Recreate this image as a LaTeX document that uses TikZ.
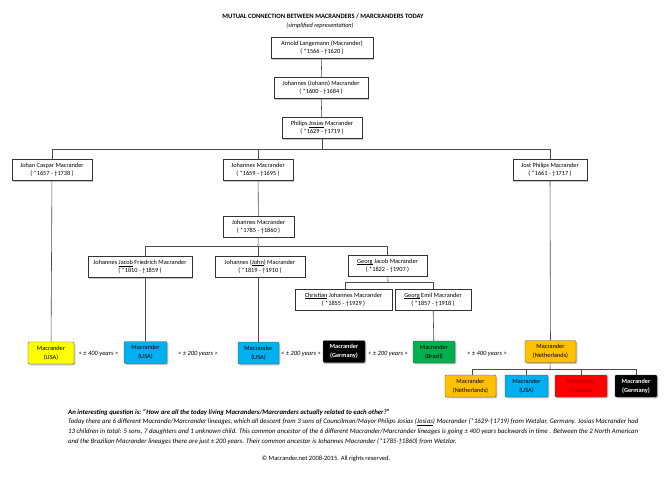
\documentclass[tikz,border=0pt]{standalone}
\usepackage{fontspec}
\setmainfont{Carlito}
\usetikzlibrary{shadows}

\definecolor{lnyellow}{HTML}{FFFF00}
\definecolor{lnblue}{HTML}{00B0F0}
\definecolor{lngreen}{HTML}{00B050}
\definecolor{lngold}{HTML}{FFC000}
\definecolor{lnred}{HTML}{FF0000}
\definecolor{lndarkred}{HTML}{A00000}

% underlined first name
\newcommand\uln[1]{\setbox0\hbox{#1}\leavevmode\rlap{\rule[-1.1pt]{\wd0}{0.35pt}}\box0\relax}

\tikzset{
  person/.style={draw=black!80, fill=white, line width=0.5pt, align=center,
    minimum height=21pt, inner sep=1pt, font=\fontsize{6.3}{7.8}\selectfont,
    drop shadow={shadow xshift=1.3pt, shadow yshift=-1.3pt, fill=black!45}},
  lineage/.style={draw=black!70, line width=0.4pt, rounded corners=1.2pt, align=center,
    minimum height=22pt, inner sep=1pt, font=\fontsize{6.3}{9}\selectfont,
    drop shadow={shadow xshift=1.3pt, shadow yshift=-1.3pt, fill=black!45}},
  gap/.style={font=\fontsize{6.5}{7}\selectfont\itshape},
  link/.style={draw=black!70, line width=0.6pt}
}

\begin{document}
\begin{tikzpicture}[x=1pt, y=-1pt]
    \useasboundingbox[fill=white] (0,0) rectangle (670,480);

    % Title
    \node (title) at (323,16) {\fontsize{6.6}{7}\selectfont\bfseries MUTUAL CONNECTION BETWEEN MACRANDERS / MARCRANDERS TODAY};
    \node (subtitle) at (320,25.5) {\fontsize{6.3}{7}\selectfont\itshape (simplified representation)};

    % Ancestors
    \node[person, minimum width=102pt] (arnold) at (322,48) {Arnold Langemann (Macrander)\\( *1566 - †1620 )};
    \node[person, minimum width=94pt] (johann) at (321,88) {Johannes (Johann) Macrander\\( *1600 - †1684 )};
    \node[person, minimum width=80pt] (philips) at (322,128) {Philips \uln{Josias} Macrander\\( *1629 - †1719 )};

    % Three sons
    \node[person, minimum width=80pt] (caspar) at (52,170) {Johan Caspar Macrander\\( *1657 - †1738 )};
    \node[person, minimum width=70pt] (johannesA) at (258,170) {Johannes Macrander\\( *1659 - †1695 )};
    \node[person, minimum width=74pt] (jost) at (550,170) {Jost Philips Macrander\\( *1661 - †1717 )};

    \node[person, minimum width=71pt] (johannesB) at (258.5,226.5) {Johannes Macrander\\( *1785 - †1860 )};

    \node[person, minimum width=104pt] (jacob) at (140,267) {Johannes \uln{Jacob} Friedrich Macrander\\( *1810 - †1859 )};
    \node[person, minimum width=90pt] (john) at (260,266.5) {Johannes (\uln{John}) Macrander\\( *1819 - †1910 )};
    \node[person, minimum width=79pt] (georg) at (387.5,265.5) {\uln{Georg} Jacob Macrander\\( *1822 - †1907 )};

    \node[person, minimum width=97pt] (christian) at (343.5,299.5) {\uln{Christian} Johannes Macrander\\( *1855 - †1929 )};
    \node[person, minimum width=76pt] (emil) at (433,299.5) {\uln{Georg} Emil Macrander\\( *1857 - †1918 )};

    % Today's lineages
    \node[lineage, fill=lnyellow, minimum width=46pt] (usaA) at (51,353) {Macrander\\(USA)};
    \node[lineage, fill=lnblue, minimum width=43pt] (usaB) at (145.5,352.5) {Macrander\\(USA)};
    \node[lineage, fill=lnblue, minimum width=41pt] (usaC) at (258.5,353) {Macrander\\(USA)};
    \node[lineage, fill=black, text=white, minimum width=42pt, font=\fontsize{6.3}{9}\selectfont\bfseries] (germanyA) at (344,351.5) {Macrander\\(Germany)};
    \node[lineage, fill=lngreen, minimum width=42pt] (brazil) at (434,352) {Macrander\\(Brazil)};
    \node[lineage, fill=lngold, minimum width=51pt] (nlA) at (550.5,351.5) {Macrander\\(Netherlands)};

    \node[lineage, fill=lngold, minimum width=51pt] (nlB) at (470.5,386) {Macrander\\(Netherlands)};
    \node[lineage, fill=lnblue, minimum width=43pt] (usaD) at (526.5,386) {Macrander\\(USA)};
    \node[lineage, fill=lnred, text=lndarkred, minimum width=52pt] (canada) at (581,386) {Macrander\\(Canada)};
    \node[lineage, fill=black, text=white, minimum width=42pt, font=\fontsize{6.3}{9}\selectfont\bfseries] (germanyB) at (636,386) {Macrander\\(Germany)};

    % Distances
    \node[gap] (gapA) at (98.5,354) {< ± 400 years >};
    \node[gap] (gapB) at (198,354) {< ± 200 years >};
    \node[gap] (gapC) at (301,354) {< ± 200 years >};
    \node[gap] (gapD) at (388,354) {< ± 200 years >};
    \node[gap] (gapE) at (487,354) {< ± 400 years >};

    % Connections
    \coordinate (barA) at (322,149);
    \coordinate (barB) at (258,246);
    \coordinate (barC) at (388,282);
    \coordinate (barD) at (550,369);

    \draw[link] (arnold) -- (johann);
    \draw[link] (johann) -- (philips);
    \draw[link] (philips) -- (barA);
    \draw[link] (barA) -| (caspar.north);
    \draw[link] (barA) -| (jost.north);
    \draw[link] (johannesA.north) |- (barA);
    \draw[link] (johannesA) -- (johannesB);
    \draw[link] (johannesB) -- (barB);
    \draw[link] (barB) -| ([xshift=5pt]jacob.north);
    \draw[link] (barB) -| (georg.north);
    \draw[link] (barB) -- (barB |- john.north);
    \draw[link] (georg) -- (barC);
    \draw[link] (barC) -| ([xshift=1.5pt]christian.north);
    \draw[link] (barC) -| (emil.north);

    \draw[link] (caspar) -- (usaA);
    \draw[link] ([xshift=5pt]jacob.south) -- ([xshift=-0.5pt]usaB.north);
    \draw[link] (john.south -| usaC) -- (usaC);
    \draw[link] ([xshift=1.5pt]christian.south) -- (christian.south -| germanyA);
    \draw[link] (emil) -- (brazil);
    \draw[link] (jost) -- (nlA);

    \draw[link] (nlA) -- (barD);
    \draw[link] (barD) -| ([xshift=1.5pt]nlB.north);
    \draw[link] (barD) -| (germanyB.north);
    \draw[link] (barD -| usaD) -- (usaD);
    \draw[link] (barD -| canada) -- (canada);

    % Explanation
    \node[anchor=north west, align=left, inner sep=0pt, font=\fontsize{6.8}{9.8}\selectfont\itshape] (text) at (68,409)
      {\textbf{An interesting question is: "How are all the today living Macranders/Marcranders actually related to each other?"}\\
       Today there are 6 different Macrande/Marcrander lineages, which all descent from 3 sons of Councilman/Mayor Philips Josias  (\uln{Josias}) Macrander (*1629-†1719) from Wetzlar, Germany. Josias Macrander had\\
       13 children in total: 5 sons, 7 daughters and 1 unknown child. This common ancestor of the 6 different Macrander/Marcrander lineages is going ± 400 years backwards in time . Between the 2 North American\\
       and the Brazilian Macrander lineages there are just ± 200 years. Their common ancestor is Johannes Macrander (*1785-†1860) from Wetzlar.};

    \node (copyright) at (326,459) {\fontsize{6.5}{7}\selectfont © Macrander.net 2008-2015. All rights reserved.};
\end{tikzpicture}
\end{document}
